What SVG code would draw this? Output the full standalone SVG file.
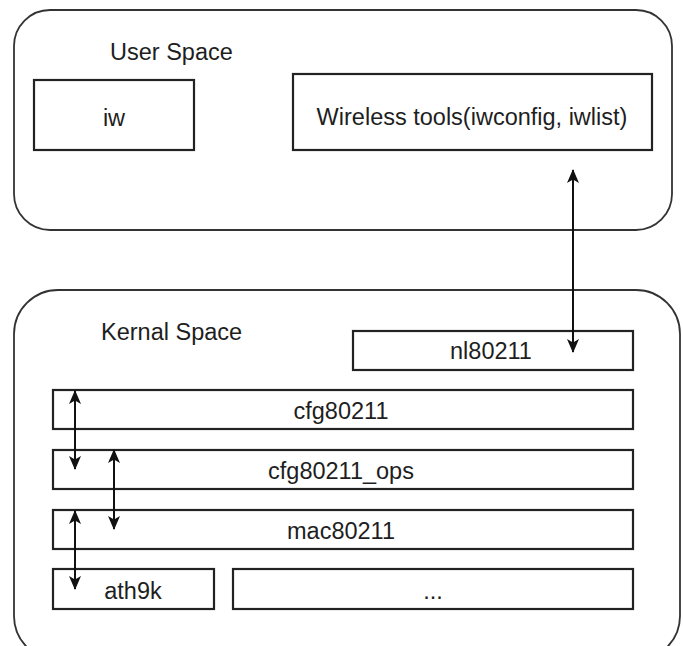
<svg xmlns="http://www.w3.org/2000/svg" width="683" height="646" viewBox="0 0 683 646">
<style>
.box{fill:#fff;stroke:#222;stroke-width:2.2}
.outer{fill:#fff;stroke:#333;stroke-width:1.8}
.t{font-family:"Liberation Sans",Arial,sans-serif;font-size:23.5px;fill:#1e1e1e;text-anchor:middle}
.lab{font-family:"Liberation Sans",Arial,sans-serif;font-size:23.5px;fill:#1e1e1e}
.c{stroke:#111;stroke-width:2;fill:none;marker-start:url(#a);marker-end:url(#a)}
</style>
<defs>
<marker id="a" viewBox="0 0 14 14" refX="13" refY="7" markerWidth="14" markerHeight="14" markerUnits="userSpaceOnUse" orient="auto-start-reverse">
<path d="M0,1 L14,7 L0,13 L3.5,7 Z" fill="#111"/>
</marker>
</defs>
<rect width="683" height="646" fill="#fff"/>
<g id="user-space">
<rect class="outer" x="14" y="10" width="658" height="220" rx="36"/>
<text class="lab" x="110" y="60">User Space</text>
</g>
<g id="iw">
<rect class="box" x="34" y="80" width="160" height="70"/>
<text class="t" x="114" y="126">iw</text>
</g>
<g id="wireless-tools">
<rect class="box" x="293" y="74" width="359" height="76"/>
<text class="t" x="472" y="125">Wireless tools(iwconfig, iwlist)</text>
</g>
<g id="kernal-space">
<rect class="outer" x="14" y="290" width="666" height="370" rx="44"/>
<text class="lab" x="101" y="340">Kernal Space</text>
</g>
<g id="nl80211">
<rect class="box" x="353" y="331" width="280" height="39"/>
<text class="t" x="491" y="359">nl80211</text>
</g>
<g id="cfg80211">
<rect class="box" x="53" y="390" width="580" height="39"/>
<text class="t" x="341" y="419">cfg80211</text>
</g>
<g id="cfg80211_ops">
<rect class="box" x="53" y="450" width="580" height="39"/>
<text class="t" x="341" y="479">cfg80211_ops</text>
</g>
<g id="mac80211">
<rect class="box" x="53" y="510" width="580" height="39"/>
<text class="t" x="341" y="539">mac80211</text>
</g>
<g id="ath9k">
<rect class="box" x="53" y="569" width="161" height="40"/>
<text class="t" x="133" y="599">ath9k</text>
</g>
<g id="other">
<rect class="box" x="233" y="569" width="400" height="40"/>
<text class="t" x="433" y="599">...</text>
</g>
<g id="connectors">
<line class="c" x1="573" y1="170" x2="573" y2="352"/>
<line class="c" x1="75" y1="391" x2="75" y2="469"/>
<line class="c" x1="114" y1="450" x2="114" y2="529"/>
<line class="c" x1="75" y1="511" x2="75" y2="589"/>
</g>
</svg>
